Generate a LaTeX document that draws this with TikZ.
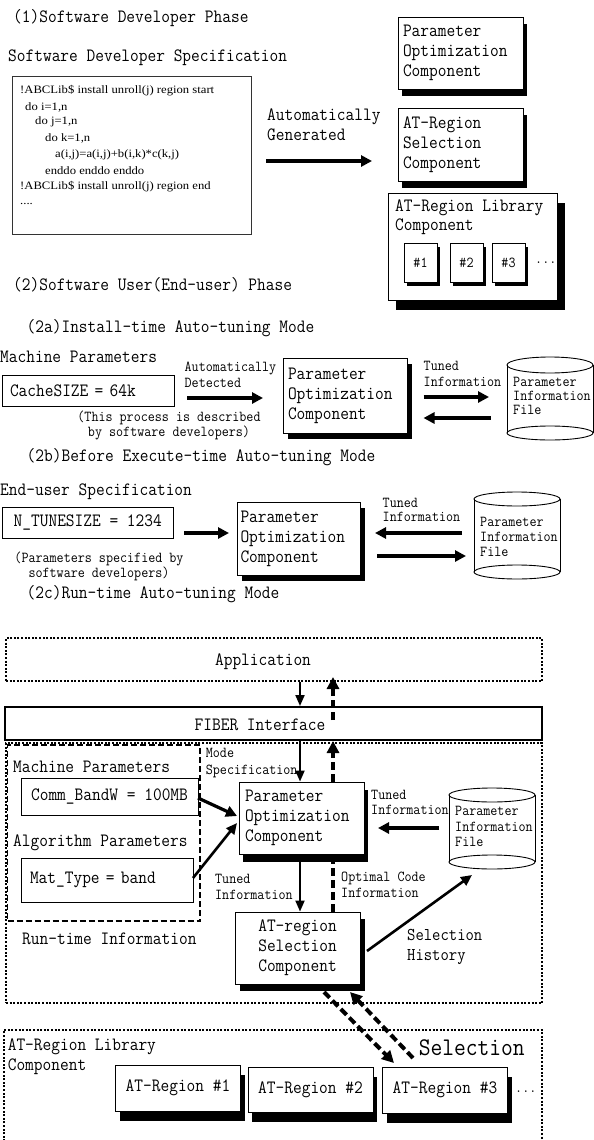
\documentclass[tikz,border=0pt]{standalone}
\usepackage{fontspec}
\newfontfamily\mono[FakeStretch=0.9]{Latin Modern Mono}
\newfontfamily\codef[FakeStretch=1.12]{Liberation Serif}
\usetikzlibrary{arrows.meta,shadows}
\newcommand\fm[2]{\mono\fontsize{#1}{#2}\selectfont}
\newcommand\fA{\fm{18.8}{20}}
\newcommand\fS{\fm{15.2}{15.5}}
\begin{document}
\begin{tikzpicture}[x=1pt,y=-1pt,
  every node/.style={inner sep=0pt},
  lbl/.style={anchor=west, align=left, font=\fA},
  slbl/.style={anchor=west, align=left, font=\fS},
  code/.style={anchor=west, font=\codef\fontsize{11.3}{13}\selectfont},
  box/.style={draw, line width=0.9pt, fill=white},
  sh/.style 2 args={general shadow={fill=black, shadow xshift=#1pt, shadow yshift=-#2pt}},
  tbox/.style={box, align=left, font=\fA},
  dotbox/.style={draw, line width=2.2pt, dash pattern=on 2pt off 1.6pt},
  tarrow/.style={line width=3.2pt, -{Triangle[length=11pt,width=11pt]}},
  narrow/.style={line width=2pt, -{Triangle[length=11pt,width=9pt]}},
  darrow/.style={line width=4pt, dash pattern=on 8pt off 4pt, -{Triangle[length=12pt,width=12pt]}},
  dline/.style={line width=4pt, dash pattern=on 8pt off 4pt},
  cyl/.style={line width=0.9pt},
]
\useasboundingbox (0,0) rectangle (594,1140);
\fill[white] (0,0) rectangle (594,1140);

% ---------- (1) Software developer phase ----------
\node[lbl] (t1) at (13,18) {(1)Software Developer Phase};
\node[lbl] (t2) at (8,58) {Software Developer Specification};
\node[box, draw=black!80, minimum width=239pt, minimum height=158pt] (codebox) at (131.5,155) {};
\node[code] (c1) at (20,91) {!ABCLib\$ install unroll(j) region start};
\node[code] (c2) at (25,107) {do i=1,n};
\node[code] (c3) at (35,122) {do j=1,n};
\node[code] (c4) at (45,138) {do k=1,n};
\node[code] (c5) at (55,155) {a(i,j)=a(i,j)+b(i,k)*c(k,j)};
\node[code] (c6) at (45,171) {enddo enddo enddo};
\node[code] (c7) at (20,187) {!ABCLib\$ install unroll(j) region end};
\node[code] (c8) at (20,204) {....};

\node[lbl] (gen) at (267,125) {Automatically\\Generated};
\coordinate (g1) at (266,161);
\coordinate (g2) at (372,161);
\draw[tarrow] (g1) -- (g2);

\node[tbox, sh={4}{7}, minimum width=125pt, minimum height=72pt, text width=115pt] (poc0) at (460.5,53) {Parameter\\Optimization\\Component};
\node[tbox, sh={4}{7}, minimum width=125pt, minimum height=73pt, text width=115pt] (sel0) at (460.5,144.5) {AT-Region\\Selection\\Component};
\node[box, sh={8}{10}, minimum width=169pt, minimum height=107pt] (lib0) at (472.5,246.5) {};
\node[lbl, font=\fm{18.8}{19}] (lib0t) at (395,217.5) {AT-Region Library\\Component};
\node[box, sh={3}{4}, minimum width=33pt, minimum height=39pt, font=\fS] (s1) at (420.5,262.5) {\#1};
\node[box, sh={3}{4}, minimum width=33pt, minimum height=39pt, font=\fS] (s2) at (466.5,262.5) {\#2};
\node[box, sh={3}{4}, minimum width=33pt, minimum height=39pt, font=\fS] (s3) at (508.5,262.5) {\#3};
\node[slbl] (dots0) at (535,263) {...};

\node[lbl] (t3) at (13,285) {(2)Software User(End-user) Phase};

% ---------- (2a) ----------
\node[lbl] (t2a) at (26.5,328) {(2a)Install-time Auto-tuning Mode};
\node[lbl] (mpA) at (0,357) {Machine Parameters};
\node[box, minimum width=172pt, minimum height=31pt, font=\fA, text width=156pt, align=left] (cache) at (88,390.5) {CacheSIZE = 64k};
\node[slbl, font=\fm{15.2}{16}] (det) at (184.5,375) {Automatically\\Detected};
\node[font=\fm{15.2}{15}, align=center] (proc) at (169,425.5) {(This process is described\\by software developers)};
\node[tbox, sh={5}{6}, minimum width=124pt, minimum height=75pt, text width=114pt] (pocA) at (345,395.5) {Parameter\\Optimization\\Component};
\node[slbl, font=\fm{15.2}{16}] (tunA) at (423.5,374) {Tuned\\Information};
\draw[cyl] (550,365) ellipse [x radius=43, y radius=8];
\draw[cyl] (507,365) -- (507,433) (593,365) -- (593,433);
\draw[cyl] (550,433) ellipse [x radius=43, y radius=7];
\node[slbl, font=\fm{15.2}{14}] (cylA) at (513,396) {Parameter\\Information\\File};
\coordinate (a1) at (187,398); \coordinate (a2) at (263,398);
\draw[tarrow] (a1) -- (a2);
\coordinate (a3) at (423.5,397); \coordinate (a4) at (489,397);
\draw[tarrow] (a3) -- (a4);
\coordinate (a5) at (490.5,418); \coordinate (a6) at (423.5,418);
\draw[tarrow] (a5) -- (a6);

% ---------- (2b) ----------
\node[lbl] (t2b) at (26.5,457) {(2b)Before Execute-time Auto-tuning Mode};
\node[lbl] (eus) at (0,492) {End-user Specification};
\node[box, minimum width=171.5pt, minimum height=31pt, font=\fA] (ntune) at (87.75,522.5) {N\_TUNESIZE = 1234};
\node[font=\fm{15.2}{14}, align=center] (pspec) at (99,566) {(Parameters specified by\\software developers)};
\node[tbox, sh={5}{6}, minimum width=123pt, minimum height=73pt, text width=116pt] (pocB) at (298.5,538.5) {Parameter\\Optimization\\Component};
\node[slbl, font=\fm{15.2}{14}] (tunB) at (382.5,510) {Tuned\\Information};
\draw[cyl] (517,499) ellipse [x radius=43, y radius=7];
\draw[cyl] (474,499) -- (474,572) (560,499) -- (560,572);
\draw[cyl] (517,572) ellipse [x radius=43, y radius=7];
\node[slbl, font=\fm{15.2}{15}] (cylB) at (480,537) {Parameter\\Information\\File};
\coordinate (b1) at (184,533); \coordinate (b2) at (229,533);
\draw[tarrow] (b1) -- (b2);
\coordinate (b3) at (462,533); \coordinate (b4) at (375,533);
\draw[tarrow] (b3) -- (b4);
\coordinate (b5) at (377,556); \coordinate (b6) at (466,556);
\draw[tarrow] (b5) -- (b6);

% ---------- (2c) ----------
\node[lbl] (t2c) at (26.5,594) {(2c)Run-time Auto-tuning Mode};
\node[dotbox, minimum width=536pt, minimum height=43pt] (app) at (274,659.5) {};
\node[font=\fA] (appt) at (263,662) {Application};
\node[draw, line width=2pt, minimum width=537.5pt, minimum height=33pt] (fiber) at (273.25,723.5) {};
\node[font=\fA] (fibert) at (260,725) {FIBER Interface};
\node[dotbox, minimum width=536pt, minimum height=260pt] (rt) at (274,873) {};
\node[draw, line width=1.8pt, dash pattern=on 6pt off 3pt, minimum width=192.5pt, minimum height=176pt] (rti) at (103.75,833) {};
\node[lbl] (mpC) at (13,767) {Machine Parameters};
\node[box, minimum width=177pt, minimum height=37pt, font=\fA] (comm) at (109.5,796.5) {Comm\_BandW = 100MB};
\node[lbl] (alg) at (13,843) {Algorithm Parameters};
\node[box, minimum width=172pt, minimum height=44pt, font=\fA, text width=154pt, align=left] (mat) at (107,880) {Mat\_Type = band};
\node[lbl] (rtit) at (22,939) {Run-time Information};
\node[slbl, font=\fm{15.2}{17}] (mode) at (205.7,763.5) {Mode\\Specification};
\node[tbox, sh={4}{8}, minimum width=125pt, minimum height=72pt, text width=113pt] (pocC) at (301.5,818) {Parameter\\Optimization\\Component};
\node[slbl, font=\fm{15.2}{15}] (tunC) at (371,802.5) {Tuned\\Information};
\draw[cyl] (492,795) ellipse [x radius=43, y radius=7];
\draw[cyl] (449,795) -- (449,862) (535,795) -- (535,862);
\draw[cyl] (492,862) ellipse [x radius=43, y radius=7];
\node[slbl, font=\fm{15.2}{15.5}] (cylC) at (455,826.5) {Parameter\\Information\\File};
\node[slbl, font=\fm{15.2}{16}] (tunD) at (215,887) {Tuned\\Information};
\node[slbl, font=\fm{15.2}{16}] (opt) at (341,885) {Optimal Code\\Information};
\node[box, sh={5}{7}, minimum width=125pt, minimum height=72pt, font=\fA, align=center] (selC) at (297.5,948) {AT-region\\Selection\\Component};
\node[lbl, font=\fm{18}{20}] (selh) at (407,947) {Selection\\History};

% library
\draw[line width=2.2pt, dash pattern=on 2pt off 1.6pt] (4,1145) -- (4,1030) -- (542,1030) -- (542,1145);
\node[lbl] (libt) at (7.6,1057) {AT-Region Library\\Component};
\node[lbl, font=\fm{25.4}{26}] (selbig) at (418.6,1048) {Selection};
\node[box, sh={4}{10}, minimum width=125pt, minimum height=46pt, font=\fA] (r1) at (178,1088) {AT-Region \#1};
\node[box, sh={4}{10}, minimum width=125pt, minimum height=45pt, font=\fA] (r2) at (310.5,1089.5) {AT-Region \#2};
\node[box, sh={4}{10}, minimum width=125pt, minimum height=46pt, font=\fA] (r3) at (445,1090) {AT-Region \#3};
\node[slbl] (dots1) at (515,1092) {...};

% connectors
\coordinate (xa) at (300,0);
\coordinate (xd) at (333,0);
\draw[narrow] (app.south -| xa) -- (fiber.north -| xa);
\draw[darrow] (333,720) -- (333,677);
\draw[narrow] (fiber.south -| xa) -- (pocC.north -| xa);
\draw[darrow] (pocC.north -| xd) -- (333,741);
\coordinate (m1) at (198,798); \coordinate (m2) at (237,816);
\draw[tarrow] (m1) -- (m2);
\coordinate (m3) at (193,878); \coordinate (m4) at (237,823);
\draw[line width=2.6pt, -{Triangle[length=11pt,width=10pt]}] (m3) -- (m4);
\coordinate (m5) at (439,828); \coordinate (m6) at (378,828);
\draw[tarrow] (m5) -- (m6);
\draw[narrow] (300,862) -- (selC.north -| xa);
\draw[dline] (selC.north -| xd) -- (333,862);
\coordinate (h1) at (367,951); \coordinate (h2) at (472,875);
\draw[line width=2.6pt, -{Triangle[length=11pt,width=10pt]}] (h1) -- (h2);
\coordinate (d1) at (324,992); \coordinate (d2) at (394,1063);
\draw[darrow] (d1) -- (d2);
\coordinate (d3) at (413,1058); \coordinate (d4) at (350,992);
\draw[darrow] (d3) -- (d4);
\end{tikzpicture}
\end{document}
